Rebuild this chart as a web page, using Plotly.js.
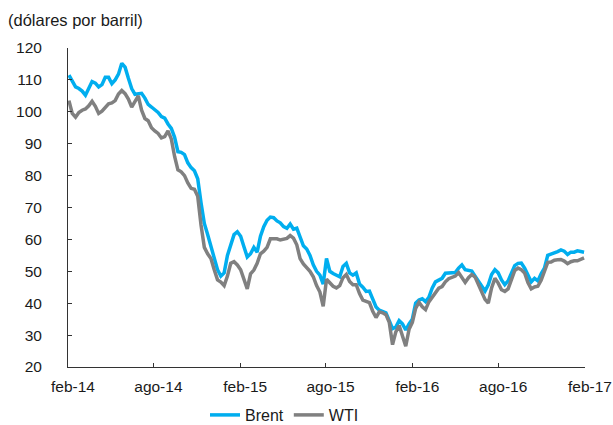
<!DOCTYPE html>
<html>
<head>
<meta charset="utf-8">
<script src="https://cdn.plot.ly/plotly-3.0.1.min.js"></script>
<style>
  html, body { margin: 0; padding: 0; background: #fff; }
  #chart { width: 613px; height: 425px; }
</style>
</head>
<body>
<div id="chart"></div>
<script>
// Weekly oil prices, US dollars per barrel, first week of Feb 2014 to end of Jan 2017
const startDate = '2014-02-03';

const brent = [
  111.5, 109.5, 107.8, 107.3, 106.5, 105.2, 107.2, 109.5, 109.0, 107.8,
  108.5, 110.8, 110.8, 108.8, 110.0, 111.8, 115.2, 114.0, 110.5, 107.3,
  105.5, 105.6, 105.8, 104.3, 102.3, 101.5, 100.7, 99.8, 98.5, 98.0,
  96.2, 94.8, 92.0, 87.5, 87.3, 86.6, 84.0, 82.5, 81.5, 79.0,
  71.5, 65.0, 61.5, 58.0, 54.0, 50.5, 48.5, 49.5, 55.0, 58.5,
  61.5, 62.4, 61.0, 57.7, 54.5, 55.5, 57.5, 56.0, 61.0, 64.0,
  66.0, 67.0, 66.8, 65.8, 65.2, 64.0, 63.5, 64.8, 63.2, 63.5,
  60.5, 58.0, 57.0, 55.0, 52.0, 50.0, 48.8, 46.0, 54.0, 50.0,
  49.3, 48.9, 48.3, 51.5, 52.5, 49.5, 48.8, 49.5, 46.0, 45.0,
  43.7, 43.8, 41.0, 38.8, 37.8, 37.4, 37.0, 34.5, 32.0, 32.5,
  34.5, 33.5, 31.6, 33.5, 35.0, 40.0, 41.0, 41.4, 40.5, 41.8,
  44.7, 46.7, 47.3, 47.8, 49.4, 49.4, 49.5, 49.6, 51.0, 52.0,
  50.5, 50.2, 50.1, 48.5, 46.8, 45.5, 43.8, 45.8, 49.0, 50.5,
  49.5, 47.3, 45.8, 47.0, 49.5, 51.8, 52.5, 52.6, 51.0, 48.5,
  46.7, 47.8, 47.0, 49.2, 51.0, 55.0, 55.4, 55.6, 56.2, 56.7,
  56.3, 55.3, 56.0, 56.0, 56.4, 56.2, 56.0
];

const wti = [
  103.5, 99.5, 98.3, 99.8, 100.5, 100.9, 101.9, 103.3, 101.7, 99.5,
  100.2, 101.4, 102.5, 102.8, 103.5, 105.6, 106.7, 105.7, 104.0, 101.5,
  103.3, 105.0, 100.5, 97.9, 97.2, 95.0, 94.0, 93.2, 91.8, 92.2,
  94.0, 91.5, 86.0, 81.8, 81.2, 80.0, 77.7, 76.0, 75.7, 73.5,
  64.5, 57.5, 55.5, 54.0, 50.5, 47.3, 46.6, 45.5, 48.5, 52.5,
  53.0, 52.0, 50.5, 47.5, 44.5, 49.2, 50.4, 52.5, 55.5, 56.3,
  57.5, 60.2, 60.3, 60.2, 59.8, 60.0, 60.3, 61.2, 60.4, 58.3,
  54.0, 52.3, 51.2, 50.0, 48.3, 45.5, 43.5, 39.0, 47.5, 46.5,
  45.3, 44.8, 45.5, 48.0, 49.0, 46.8, 45.8, 45.8, 43.0, 41.0,
  40.5, 40.2, 37.5, 35.5, 37.3, 37.0, 36.4, 34.0, 27.0, 31.0,
  33.0, 30.0, 26.5, 31.8, 34.0, 38.4, 40.3, 38.9, 38.0, 40.4,
  42.0, 43.1, 44.7, 45.2, 46.7, 47.7, 48.0, 48.5, 49.6, 48.2,
  46.5, 48.0, 49.0, 48.2, 45.8, 43.5, 41.2, 40.0, 44.8, 47.8,
  46.3, 44.2, 43.7, 44.5, 47.5, 50.2, 51.0, 50.5, 49.5, 46.5,
  44.5, 45.1, 45.3, 47.2, 50.0, 52.8, 52.9, 53.5, 53.6, 53.7,
  53.2, 52.4, 53.0, 53.3, 53.3, 53.8, 54.2
];

const tickDates = ['2014-02-01', '2014-08-01', '2015-02-01', '2015-08-01', '2016-02-01', '2016-08-01', '2017-02-01'];
const tickLabels = ['feb-14', 'ago-14', 'feb-15', 'ago-15', 'feb-16', 'ago-16', 'feb-17'];
const yTicks = [20, 30, 40, 50, 60, 70, 80, 90, 100, 110, 120];

// one date per weekly observation
const weeks = brent.map((_, i) => {
  const d = new Date(startDate + 'T00:00:00Z');
  d.setUTCDate(d.getUTCDate() + 7 * i);
  return d.toISOString().slice(0, 10);
});

const FONT = 'Liberation Sans, Arial, Helvetica, sans-serif';
const INK = '#1a1a1a';

const traces = [
  {
    x: weeks, y: brent, name: 'Brent', type: 'scatter', mode: 'lines',
    line: { color: '#00AEEF', width: 3.5 }
  },
  {
    x: weeks, y: wti, name: 'WTI', type: 'scatter', mode: 'lines',
    line: { color: '#808080', width: 3.5 }
  }
];

const layout = {
  width: 613, height: 425,
  margin: { l: 68, r: 28, t: 48, b: 58 },
  paper_bgcolor: '#ffffff', plot_bgcolor: '#ffffff',
  font: { family: FONT, size: 15, color: INK },
  title: {
    text: '(dólares por barril)',
    font: { family: FONT, size: 16.5, color: INK },
    xref: 'container', yref: 'container',
    x: 8 / 613, xanchor: 'left',
    y: 1 - 20 / 425, yanchor: 'middle'
  },
  xaxis: {
    type: 'date',
    range: ['2014-02-01', '2017-02-01'],
    tickmode: 'array', tickvals: tickDates, ticktext: tickLabels,
    ticks: 'inside', ticklen: 4, tickwidth: 1, tickcolor: '#333',
    showline: true, linecolor: '#333', linewidth: 1,
    showgrid: false, zeroline: false,
    ticklabelstandoff: 5, ticklabelshift: 5,
    tickfont: { family: FONT, size: 15.5, color: INK }
  },
  yaxis: {
    range: [20, 120],
    tickmode: 'array', tickvals: yTicks,
    ticks: 'inside', ticklen: 4, tickwidth: 1, tickcolor: '#333',
    showline: true, linecolor: '#333', linewidth: 1,
    showgrid: false, zeroline: false,
    ticklabelstandoff: 22,
    tickfont: { family: FONT, size: 15.5, color: INK }
  },
  showlegend: true,
  legend: {
    orientation: 'h',
    xref: 'container', yref: 'container',
    x: 205 / 613, xanchor: 'left',
    y: 1 - 415 / 425, yanchor: 'middle',
    font: { family: FONT, size: 16, color: INK },
    bgcolor: 'rgba(0,0,0,0)', itemwidth: 30, tracegroupgap: 0
  }
};

Plotly.newPlot('chart', traces, layout, { displayModeBar: false, staticPlot: true });
</script>
</body>
</html>
